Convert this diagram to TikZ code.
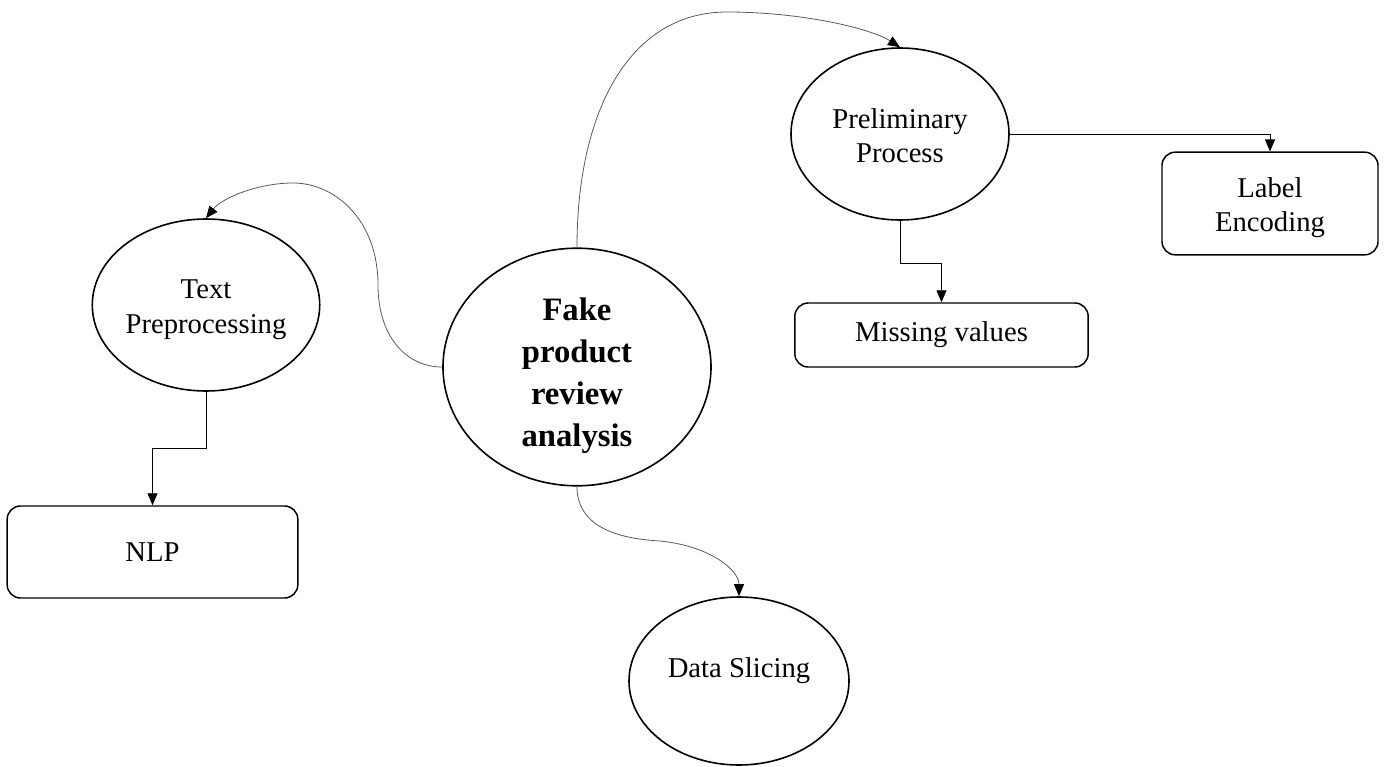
\documentclass[tikz,border=0pt]{standalone}
\usepackage{fontspec}
\setmainfont{Liberation Serif}
\usetikzlibrary{arrows.meta,shapes.geometric}

\begin{document}
\begin{tikzpicture}
[
  x=0.75pt, y=-0.75pt,
  topic/.style  = {shape=ellipse, draw, line width=1.2pt, inner sep=0pt,
                   align=center, font=\fontsize{21.5}{26}\selectfont},
  task/.style   = {shape=rectangle, draw, line width=1.1pt, rounded corners=10pt,
                   inner sep=0pt, align=center, font=\fontsize{21.5}{26}\selectfont},
  flow/.style   = {draw, line width=0.6pt, -{Triangle[length=9pt,width=7.5pt,color=black]}},
  curl/.style   = {flow, draw=black!65}
]
\useasboundingbox (0,0) rectangle (1386,767);

% central topic
\node [topic, minimum width=201pt, minimum height=168pt,
       font=\fontsize{24.5}{31.5}\selectfont\bfseries] (main) at (577,367)
      {\raisebox{-6pt}[\height][\depth]{\begin{tabular}{@{}c@{}}Fake\\product\\review\\analysis\end{tabular}}};

% ellipses
\node [topic, minimum width=163.5pt, minimum height=129pt] (text)   at (206,305)
      {\raisebox{-3pt}[\height][\depth]{\begin{tabular}{@{}c@{}}Text\\Preprocessing\end{tabular}}};
\node [topic, minimum width=163.5pt, minimum height=129pt] (prelim) at (900,134)
      {\raisebox{-3.5pt}[\height][\depth]{\begin{tabular}{@{}c@{}}Preliminary\\Process\end{tabular}}};
\node [topic, minimum width=165pt, minimum height=126pt]   (slice)  at (739,681)
      {\raisebox{8pt}[\height][\depth]{Data Slicing}};

% boxes
\node [task, minimum width=162pt, minimum height=77pt] (label)   at (1270,203.5)
      {\raisebox{-3pt}[\height][\depth]{\begin{tabular}{@{}c@{}}Label\\Encoding\end{tabular}}};
\node [task, minimum width=220pt, minimum height=48pt] (missing) at (941.5,335) {Missing values};
\node [task, minimum width=218pt, minimum height=69pt] (nlp)     at (152.5,552) {NLP};

% curved links
\draw [curl] (main.north) .. controls (577,110) and (630,12) .. (727,12)
             .. controls (800,12) and (870,28) .. (prelim.north);
\draw [curl] (main.west) .. controls (405,367) and (378,335) .. (378,285)
             .. controls (378,220) and (335,183) .. (293,183)
             .. controls (258,183) and (222,198) .. (text.north);
\draw [curl] (main.south) .. controls (577,520) and (605,538) .. (660,541)
             .. controls (710,546) and (739,570) .. (slice.north);

% square links
\draw [flow] (prelim.east) -| (label.north);
\draw [flow] (prelim.south) -- ++(0,43) -| (missing.north);
\draw [flow] (text.south) -- ++(0,57) -| (nlp.north);
\end{tikzpicture}
\end{document}
